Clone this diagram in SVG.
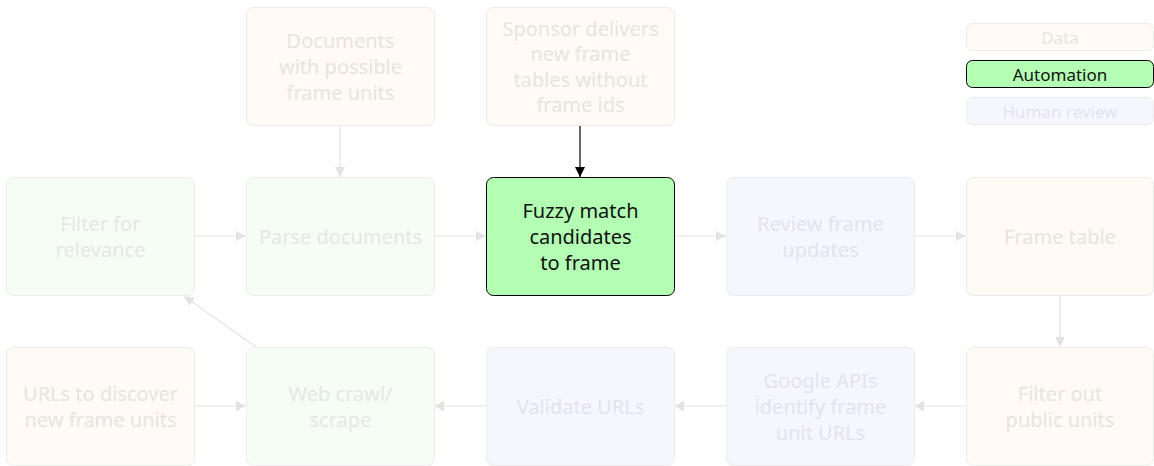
<svg xmlns="http://www.w3.org/2000/svg" width="1154" height="466" viewBox="0 0 1154 466">
<defs>
<style>
text{font-family:"Noto Sans","Open Sans","DejaVu Sans",sans-serif;font-size:20px;text-anchor:middle;dominant-baseline:central}
.box{stroke-width:1}
.data rect{fill:#fffaf3;stroke:#ececec}
.data text{fill:#e6e4e1}
.auto rect{fill:#f6fdf5;stroke:#ececec}
.auto text{fill:#e4e7e4}
.human rect{fill:#f6f6fe;stroke:#ececec}
.human text{fill:#e3e3ec}
.hl rect{fill:#b3ffb3;stroke:#000}
.hl text{fill:#111}
.leg text{font-size:17px}
.c{fill:none;stroke:#e3e3e3;stroke-width:1.2}
.ck{fill:none;stroke:#000;stroke-width:1.2}
</style>
<marker id="ag" viewBox="0 0 10 10" refX="10" refY="5" markerWidth="10" markerHeight="10" markerUnits="userSpaceOnUse" orient="auto"><path d="M0,0 L10,5 L0,10 z" fill="#e3e3e3"/></marker>
<marker id="ak" viewBox="0 0 10 10" refX="10" refY="5" markerWidth="10" markerHeight="10" markerUnits="userSpaceOnUse" orient="auto"><path d="M0,0 L10,5 L0,10 z" fill="#000"/></marker>
</defs>
<rect width="1154" height="466" fill="#fff"/>
<g id="connectors">
<path class="c" d="M340,125 V177" marker-end="url(#ag)"/>
<path class="ck" d="M580,125 V177" marker-end="url(#ak)"/>
<path class="c" d="M194,236 H246" marker-end="url(#ag)"/>
<path class="c" d="M434,236 H486" marker-end="url(#ag)"/>
<path class="c" d="M674,236 H726" marker-end="url(#ag)"/>
<path class="c" d="M914,236 H966" marker-end="url(#ag)"/>
<path class="c" d="M1060,295 V347" marker-end="url(#ag)"/>
<path class="c" d="M966,406 H914" marker-end="url(#ag)"/>
<path class="c" d="M726,406 H674" marker-end="url(#ag)"/>
<path class="c" d="M486,406 H434" marker-end="url(#ag)"/>
<path class="c" d="M194,406 H246" marker-end="url(#ag)"/>
<path class="c" d="M256,347 L184,296" marker-end="url(#ag)"/>
</g>
<g id="n-documents" class="data"><rect x="246.5" y="7.5" width="188" height="118" rx="7"/><text x="340.5" y="40">Documents</text><text x="340.5" y="66">with possible</text><text x="340.5" y="92">frame units</text></g>
<g id="n-sponsor" class="data"><rect x="486.5" y="7.5" width="188" height="118" rx="7"/><text x="580.5" y="28">Sponsor delivers</text><text x="580.5" y="53.5">new frame</text><text x="580.5" y="79">tables without</text><text x="580.5" y="104.5">frame ids</text></g>
<g id="n-filter-relevance" class="auto"><rect x="6.5" y="177.5" width="188" height="118" rx="7"/><text x="100.5" y="223">Filter for</text><text x="100.5" y="249">relevance</text></g>
<g id="n-parse" class="auto"><rect x="246.5" y="177.5" width="188" height="118" rx="7"/><text x="340.5" y="236">Parse documents</text></g>
<g id="n-fuzzy" class="hl"><rect x="486.5" y="177.5" width="188" height="118" rx="7"/><text x="580.5" y="210">Fuzzy match</text><text x="580.5" y="236">candidates</text><text x="580.5" y="262">to frame</text></g>
<g id="n-review" class="human"><rect x="726.5" y="177.5" width="188" height="118" rx="7"/><text x="820.5" y="223">Review frame</text><text x="820.5" y="249">updates</text></g>
<g id="n-frame-table" class="data"><rect x="966.5" y="177.5" width="187" height="118" rx="7"/><text x="1060" y="236">Frame table</text></g>
<g id="n-urls" class="data"><rect x="6.5" y="347.5" width="188" height="118" rx="7"/><text x="100.5" y="393">URLs to discover</text><text x="100.5" y="419">new frame units</text></g>
<g id="n-webcrawl" class="auto"><rect x="246.5" y="347.5" width="188" height="118" rx="7"/><text x="340.5" y="393">Web crawl/</text><text x="340.5" y="419">scrape</text></g>
<g id="n-validate" class="human"><rect x="486.5" y="347.5" width="188" height="118" rx="7"/><text x="580.5" y="406">Validate URLs</text></g>
<g id="n-google" class="human"><rect x="726.5" y="347.5" width="188" height="118" rx="7"/><text x="820.5" y="380">Google APIs</text><text x="820.5" y="406">identify frame</text><text x="820.5" y="432">unit URLs</text></g>
<g id="n-filter-public" class="data"><rect x="966.5" y="347.5" width="187" height="118" rx="7"/><text x="1060" y="393">Filter out</text><text x="1060" y="419">public units</text></g>
<g id="legend-data" class="data leg"><rect x="966.5" y="23.5" width="187" height="27" rx="6"/><text x="1060" y="37">Data</text></g>
<g id="legend-automation" class="hl leg"><rect x="966.5" y="60.5" width="187" height="27" rx="6"/><text x="1060" y="74">Automation</text></g>
<g id="legend-human" class="human leg"><rect x="966.5" y="97.5" width="187" height="27" rx="6"/><text x="1060" y="111">Human review</text></g>
</svg>
